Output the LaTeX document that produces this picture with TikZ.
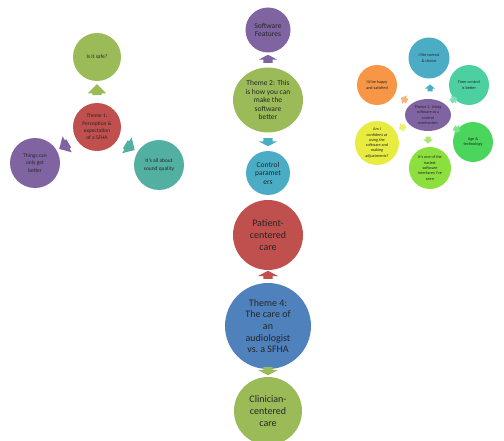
\documentclass[tikz,border=0pt]{standalone}
\usepackage{fontspec}
\setmainfont{Carlito}
\usetikzlibrary{shapes.geometric,shapes.arrows}
\definecolor{offred}{RGB}{192,80,77}
\definecolor{offgreen}{RGB}{155,187,89}
\definecolor{offpurple}{RGB}{128,100,162}
\definecolor{offblue}{RGB}{79,129,189}
\definecolor{offaqua}{RGB}{75,172,198}
\definecolor{offteal}{RGB}{82,176,162}
\definecolor{offorange}{RGB}{247,150,70}
\definecolor{offmint}{RGB}{76,208,160}
\definecolor{offlime}{RGB}{74,214,92}
\definecolor{offyg}{RGB}{140,224,62}
\definecolor{offyellow}{RGB}{232,236,64}

\begin{document}
\begin{tikzpicture}[x=1pt,y=1pt,
bub/.style={circle,draw=none,fill=#1,align=center,inner sep=0pt,text=black!85},
oval/.style={ellipse,draw=none,fill=#1,align=center,inner sep=0pt,text=black!85},
barr/.style={single arrow,draw=none,fill=#1,inner xsep=0pt,inner ysep=4.5pt,
  single arrow head extend=4.5pt,minimum height=11pt,single arrow tip angle=90},
farr/.style={single arrow,draw=none,fill=#1,inner xsep=0pt,inner ysep=4.5pt,
  single arrow head extend=4.5pt,minimum height=8pt,single arrow tip angle=125},
sarr/.style={single arrow,draw=none,fill=#1,inner xsep=0pt,inner ysep=2.3pt,
  single arrow head extend=2.5pt,minimum height=7pt,single arrow tip angle=100},
fa/.style={font=\fontsize{5.5}{7.3}\selectfont},
fb/.style={font=\fontsize{7.5}{8.5}\selectfont},
fc/.style={font=\fontsize{10}{11.7}\selectfont},
fd/.style={font=\fontsize{4.2}{5.3}\selectfont}]
\useasboundingbox (0,0) rectangle (504,440);

% theme 1
\node[bub=offred,fa,minimum size=48pt](t1)at(97,313){Theme 1:\\Perception \&\\expectation\\of a SFHA};
\node[bub=offgreen,fa,minimum size=48pt](t1safe)at(97,383){Is it safe?};
\node[bub=offpurple,fa,minimum size=50pt](t1better)at(35,277){Things can\\only get\\better};
\node[bub=offteal,fa,minimum size=50pt](t1sound)at(159,275){It's all about\\sound quality};
\node[barr=offgreen,rotate=90](a1safe)at(97,348){};
\node[barr=offpurple,rotate=210](a1better)at(66,295){};
\node[barr=offteal,rotate=-31](a1sound)at(128,294){};

% theme 2
\node[oval=offgreen,fb,minimum width=70pt,minimum height=65pt](t2)at(268,340){Theme 2: This\\is how you can\\make the\\software\\better};
\node[bub=offpurple,fb,minimum size=45pt](t2feat)at(268,410){Software\\Features};
\node[bub=offaqua,fb,minimum size=44pt](t2ctrl)at(268,267){Control\\paramet\\ers};
\node[farr=offpurple,rotate=90](a2feat)at(268,380){};
\node[farr=offaqua,rotate=-90](a2ctrl)at(268,299){};

% theme 3
\node[oval=offpurple,fd,minimum width=46pt,minimum height=32pt](t3)at(428,325){Theme 3: Using\\software as a\\control\\mechanism};
\node[bub=offaqua,fd,minimum size=41pt](t3like)at(429,382){I like control\\\& choice};
\node[bub=offmint,fd,minimum size=40pt](t3finer)at(469,355){Finer control\\is better};
\node[bub=offlime,fd,minimum size=40pt](t3age)at(473,298){Age \&\\technology};
\node[bub=offyg,fd,minimum size=42pt](t3easy)at(430,272){It's one of the\\easiest\\software\\interfaces I've\\seen};
\node[bub=offyellow,fd,minimum size=44pt](t3conf)at(377,297){Am I\\confident at\\using the\\software and\\making\\adjustments?};
\node[bub=offorange,fd,minimum size=40pt](t3happy)at(377,355){I'd be happy\\and satisfied};
\node[sarr=offaqua,rotate=90](a3like)at(430,351){};
\node[sarr=offmint!70,rotate=35](a3finer)at(453,340){};
\node[sarr=offlime!70,rotate=-30](a3age)at(456,311){};
\node[sarr=offyg!75,rotate=-90](a3easy)at(428,301){};
\node[sarr=offyellow!75,rotate=210](a3conf)at(403,313){};
\node[sarr=offorange!70,rotate=150](a3happy)at(405,340){};

% theme 4
\node[bub=offblue,fc,minimum size=86pt](t4)at(268,114){Theme 4:\\The care of\\an\\audiologist\\vs.\ a SFHA};
\node[bub=offred,fc,minimum size=70pt](t4pat)at(268,205){Patient-\\centered\\care};
\node[bub=offgreen,fc,minimum size=68pt](t4clin)at(268,29){Clinician-\\centered\\care};
\node[farr=offred,single arrow head extend=5.5pt,rotate=90](a4pat)at(268,164){};
\node[farr=offgreen,single arrow head extend=5.5pt,rotate=-90](a4clin)at(268,70){};
\end{tikzpicture}
\end{document}
